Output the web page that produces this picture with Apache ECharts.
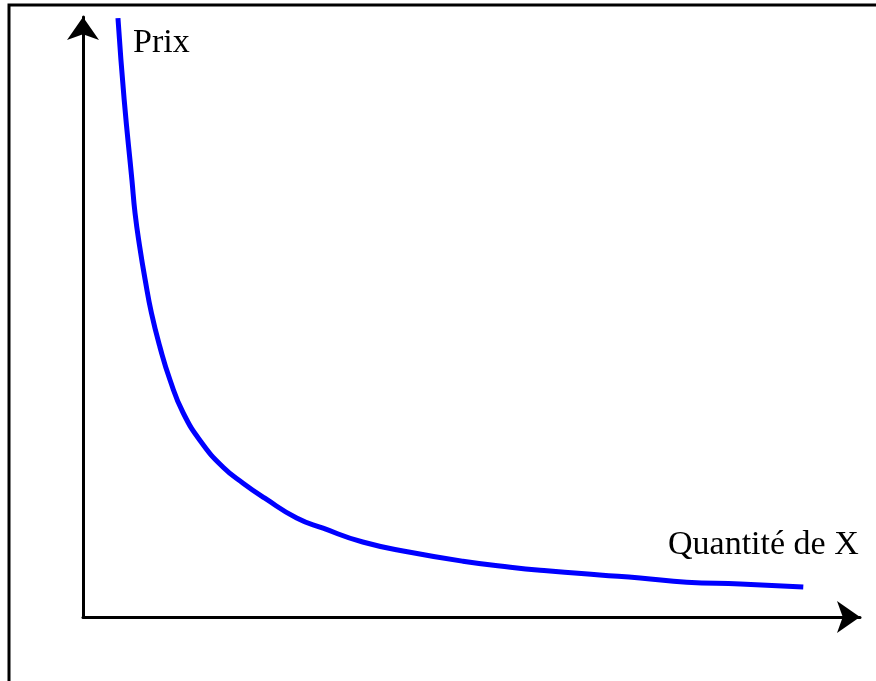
<!DOCTYPE html>
<html>
<head>
<meta charset="utf-8">
<script src="https://cdn.jsdelivr.net/npm/echarts@6/dist/echarts.min.js"></script>
<style>
  html, body { margin: 0; padding: 0; background: #fff; }
  #chart { width: 876px; height: 681px; }
</style>
</head>
<body>
<div id="chart"></div>
<script>
// Demand curve: quantity of X against price (arbitrary units)
const quantity = [0.45, 0.53, 0.63, 0.67, 0.73, 0.80, 0.88, 0.99, 1.12, 1.29, 1.53, 1.80, 2.06, 2.34, 2.75, 3.09, 3.60, 4.21, 4.89, 5.50, 5.97, 6.65, 7.17, 7.77, 8.46, 9.27];
const price    = [9.98, 8.62, 7.28, 6.73, 6.17, 5.62, 5.07, 4.50, 3.95, 3.40, 2.90, 2.50, 2.23, 1.98, 1.65, 1.48, 1.25, 1.08, 0.93, 0.83, 0.77, 0.70, 0.65, 0.58, 0.55, 0.50];
const yLabel = 'Prix';
const xLabel = 'Quantité de X';

const serif = '"Liberation Serif", "Times New Roman", serif';
const chart = echarts.init(document.getElementById('chart'));

const axisCommon = {
  type: 'value',
  min: 0,
  max: 10,
  axisLine: {
    show: true,
    symbol: ['none', 'arrow'],
    symbolSize: [24, 23],
    lineStyle: { color: '#000', width: 3 }
  },
  axisTick: { show: false },
  axisLabel: { show: false },
  splitLine: { show: false }
};

chart.setOption({
  animation: false,
  backgroundColor: '#fff',
  grid: { left: 83, top: 17, right: 16, bottom: 64 },
  xAxis: Object.assign({}, axisCommon),
  yAxis: Object.assign({}, axisCommon),
  series: [{
    type: 'line',
    data: quantity.map((q, i) => [q, price[i]]),
    smooth: 0.5,
    showSymbol: false,
    clip: false,
    lineStyle: { color: '#0000ff', width: 5 }
  }],
  graphic: [
    {
      type: 'rect',
      shape: { x: 9, y: 5, width: 900, height: 700 },
      style: { fill: 'none', stroke: '#000', lineWidth: 3 },
      silent: true
    },
    {
      type: 'text',
      left: 133, top: 26,
      style: { text: yLabel, font: '34px ' + serif, fill: '#000' }
    },
    {
      type: 'text',
      left: 668, top: 528,
      style: { text: xLabel, font: '34px ' + serif, fill: '#000' }
    }
  ]
});
</script>
</body>
</html>
